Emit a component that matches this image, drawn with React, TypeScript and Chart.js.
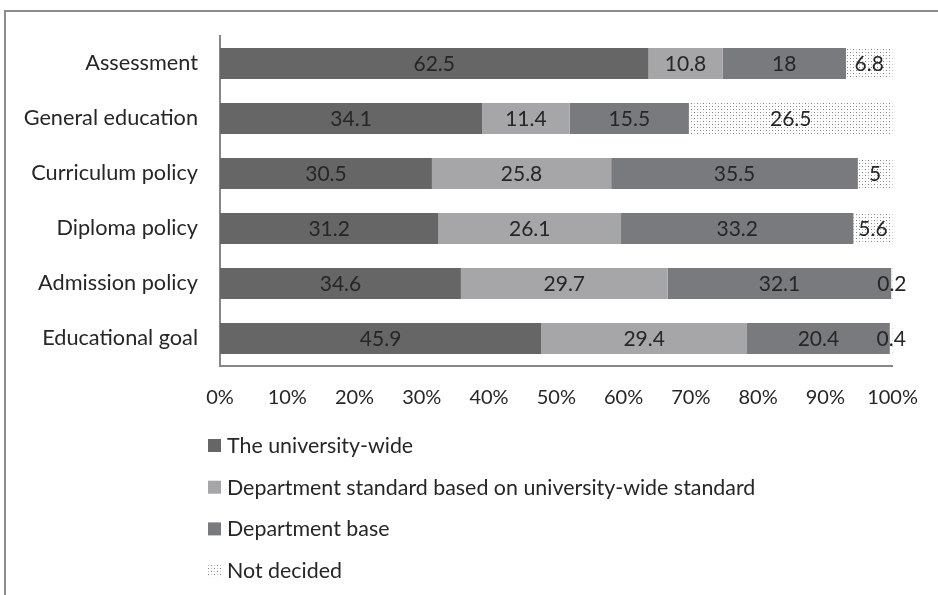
import React, { useEffect, useRef } from "react";
import { Chart, registerables } from "chart.js";

Chart.register(...registerables);

const categories = [
  "Assessment",
  "General education",
  "Curriculum policy",
  "Diploma policy",
  "Admission policy",
  "Educational goal",
];
const seriesNames = [
  "The university-wide",
  "Department standard based on university-wide standard",
  "Department base",
  "Not decided",
];
const universityWide = [62.5, 34.1, 30.5, 31.2, 34.6, 45.9];
const deptStandard = [10.8, 11.4, 25.8, 26.1, 29.7, 29.4];
const deptBase = [18, 15.5, 35.5, 33.2, 32.1, 20.4];
const notDecided = [6.8, 26.5, 5, 5.6, 0.2, 0.4];
const tickValues = [0, 10, 20, 30, 40, 50, 60, 70, 80, 90, 100];

const FONT = "Lato";
const TEXT = "#262626";

function makePattern(): CanvasPattern | string {
  const c = document.createElement("canvas");
  c.width = 6;
  c.height = 6;
  const g = c.getContext("2d");
  if (!g) return "#eee";
  g.fillStyle = "#ffffff";
  g.fillRect(0, 0, 6, 6);
  g.fillStyle = "#7a7a7a";
  g.fillRect(1, 1, 1, 1);
  g.fillRect(4, 4, 1, 1);
  g.fillStyle = "#c0c0c0";
  g.fillRect(4, 1, 1, 1);
  g.fillRect(1, 4, 1, 1);
  const p = g.createPattern(c, "repeat");
  return p || "#eee";
}

export default function App() {
  const ref = useRef<HTMLCanvasElement>(null);

  useEffect(() => {
    if (!ref.current) return;
    const pattern = makePattern();
    const raw = [universityWide, deptStandard, deptBase, notDecided];
    const totals = categories.map((_, i) => raw.reduce((s, a) => s + a[i], 0));
    const colors: any[] = ["#666666", "#a6a6a8", "#797a7d", pattern];

    const labelPlugin = {
      id: "segLabels",
      afterDatasetsDraw(chart: any) {
        const ctx = chart.ctx;
        ctx.save();
        ctx.font = `21px ${FONT}`;
        ctx.fillStyle = TEXT;
        ctx.textAlign = "center";
        ctx.textBaseline = "middle";
        chart.data.datasets.forEach((ds: any, di: number) => {
          const meta = chart.getDatasetMeta(di);
          meta.data.forEach((bar: any, i: number) => {
            const cx = (bar.x + bar.base) / 2;
            ctx.fillText(String(ds.rawValues[i]), cx, bar.y + 1);
          });
        });
        ctx.restore();
      },
    };

    const legendPlugin = {
      id: "vLegend",
      afterDraw(chart: any) {
        const ctx = chart.ctx;
        const a = chart.chartArea;
        ctx.save();
        ctx.font = `21.4px ${FONT}`;
        ctx.textBaseline = "middle";
        ctx.textAlign = "left";
        chart.data.datasets.forEach((ds: any, i: number) => {
          const cy = a.bottom + 79 + i * 41.7;
          const bx = a.left - 12;
          ctx.fillStyle = ds.backgroundColor;
          ctx.fillRect(bx, cy - 6, 13, 13);
          ctx.fillStyle = TEXT;
          ctx.fillText(ds.label, a.left + 7, cy + 1);
        });
        ctx.restore();
      },
    };

    const chart = new Chart(ref.current, {
      type: "bar",
      data: {
        labels: categories,
        datasets: raw.map((arr, k) => ({
          label: seriesNames[k],
          data: arr.map((v, i) => (v / totals[i]) * 100),
          rawValues: arr,
          backgroundColor: colors[k],
          borderWidth: 0,
          categoryPercentage: 1,
          barPercentage: 0.565,
        })) as any,
      },
      options: {
        indexAxis: "y",
        animation: false,
        responsive: false,
        maintainAspectRatio: false,
        layout: { padding: { left: 0, right: 41, top: 36, bottom: 0 } },
        plugins: {
          legend: { display: false },
          tooltip: { enabled: false },
        },
        scales: {
          x: {
            stacked: true,
            min: 0,
            max: 100,
            afterBuildTicks(scale: any) {
              scale.ticks = tickValues.map((v) => ({ value: v }));
            },
            afterFit(scale: any) {
              scale.height = 595 - 36 - 330;
            },
            grid: { display: false, drawTicks: false },
            border: { display: true, color: "#878787", width: 2 },
            ticks: {
              padding: 20,
              color: TEXT,
              font: { family: FONT, size: 20 },
              maxRotation: 0,
              autoSkip: false,
              callback: (v: any) => v + "%",
            },
          },
          y: {
            stacked: true,
            afterFit(scale: any) {
              scale.width = 220;
            },
            grid: { display: false, drawTicks: false },
            border: { display: true, color: "#878787", width: 2 },
            ticks: {
              padding: 22,
              color: TEXT,
              font: { family: FONT, size: 21.7 },
              autoSkip: false,
            },
          },
        },
      },
      plugins: [labelPlugin, legendPlugin],
    } as any);

    return () => chart.destroy();
  }, []);

  return (
    <div
      style={{
        position: "absolute",
        left: 0,
        top: 0,
        width: 938,
        height: 595,
        background: "#fff",
        overflow: "hidden",
      }}
    >
      <canvas ref={ref} width={938} height={595} style={{ position: "absolute", left: 0, top: 0 }} />
      <div
        style={{
          position: "absolute",
          left: 4,
          top: 10,
          width: 1000,
          height: 1000,
          borderTop: "2px solid #8c8c8c",
          borderLeft: "2px solid #8c8c8c",
          pointerEvents: "none",
        }}
      />
    </div>
  );
}
